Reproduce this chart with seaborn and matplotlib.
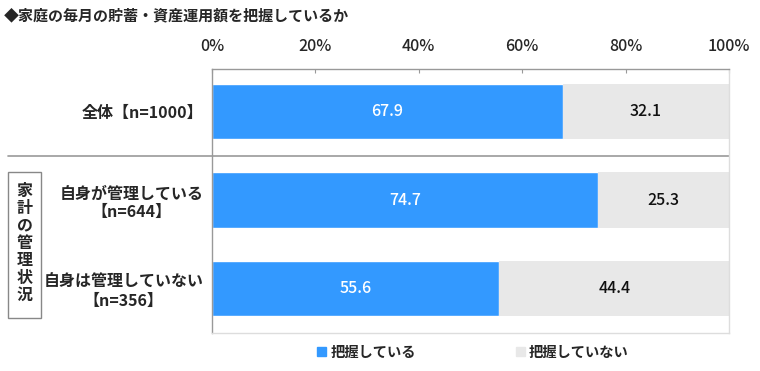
import matplotlib
matplotlib.use("Agg")
import matplotlib.pyplot as plt
import matplotlib.patches as mpatches
import seaborn as sns
import pandas as pd

# data
categories = ["全体【n=1000】", "自身が管理している\n【n=644】", "自身は管理していない\n【n=356】"]
grasp = [67.9, 74.7, 55.6]
not_grasp = [32.1, 25.3, 44.4]
series_names = ["把握している", "把握していない"]
xticks = [0, 20, 40, 60, 80, 100]

BLUE = "#3399FF"
GRAY = "#E8E8E8"

sns.set_style("white")
plt.rcParams['font.family'] = ['Noto Sans CJK JP', 'DejaVu Sans']

df = pd.DataFrame({"cat": categories, "grasp": grasp, "not": not_grasp})

fig = plt.figure(figsize=(7.6, 3.71), dpi=100)
ax = fig.add_axes([212/760, 1-333/371, 517/760, (333-69)/371])

sns.barplot(data=df, x="grasp", y="cat", orient="h", color=BLUE,
            saturation=1, width=0.625, ax=ax)
ax.barh(range(len(categories)), df["not"], left=df["grasp"], height=0.625,
        color=GRAY, linewidth=0)

# value labels
for i, (g, n) in enumerate(zip(grasp, not_grasp)):
    ax.text(g/2, i, f"{g:.1f}", ha="center", va="center", color="white",
            fontsize=11.5, fontweight="medium")
    ax.text(g + n/2, i, f"{n:.1f}", ha="center", va="center", color="#111111",
            fontsize=11.5, fontweight="medium")

ax.set_xlim(0, 100)
ax.set_ylim(2.48, -0.48)
ax.set_xticks(xticks)
ax.set_xticklabels([f"{t}%" for t in xticks], fontsize=11.5, fontweight="medium")
ax.xaxis.tick_top()
ax.tick_params(axis="x", direction="in", length=3, color="#999999", pad=10)
ax.set_xlabel("")
ax.set_ylabel("")
ax.set_yticks(range(len(categories)))
ax.set_yticklabels(categories, fontsize=11.5, fontweight="bold",
                   multialignment="center")
ax.tick_params(axis="y", length=0, pad=6)
ax.set_yticks([1.5, 2.5], minor=True)
ax.tick_params(axis="y", which="minor", length=6, direction="out", color="#999999")

for side in ["left", "top"]:
    ax.spines[side].set_color("#999999")
    ax.spines[side].set_linewidth(1)
for side in ["right", "bottom"]:
    ax.spines[side].set_color("#DDDDDD")
    ax.spines[side].set_linewidth(1)

# separator line between total and breakdown
ax.axhline(0.5, xmin=(8-212)/517, xmax=1, color="#999999", lw=1.2, clip_on=False)

# vertical group label with box
fig.patches.append(mpatches.Rectangle((8/760, 1-318/371), 33/760, 146/371,
                                      transform=fig.transFigure, fill=False,
                                      edgecolor="#888888", lw=1))
fig.text(24.5/760, 1-243/371, "\n".join("家計の管理状況"), ha="center", va="center",
         fontsize=11.5, fontweight="bold", linespacing=1.1)

# title
fig.text(4/760, 1-15/371, "◆家庭の毎月の貯蓄・資産運用額を把握しているか",
         ha="left", va="center", fontsize=10.8, fontweight="bold")

# legend
handles = [mpatches.Patch(color=BLUE), mpatches.Patch(color=GRAY)]
leg = fig.legend(handles, series_names, loc="center", bbox_to_anchor=(473/760, 1-353/371),
                 ncol=2, frameon=False, handlelength=0.6, handleheight=0.6,
                 handletextpad=0.3, columnspacing=7.0,
                 prop={"size": 10.3, "weight": "bold"})

fig.savefig("out.png", dpi=100)
